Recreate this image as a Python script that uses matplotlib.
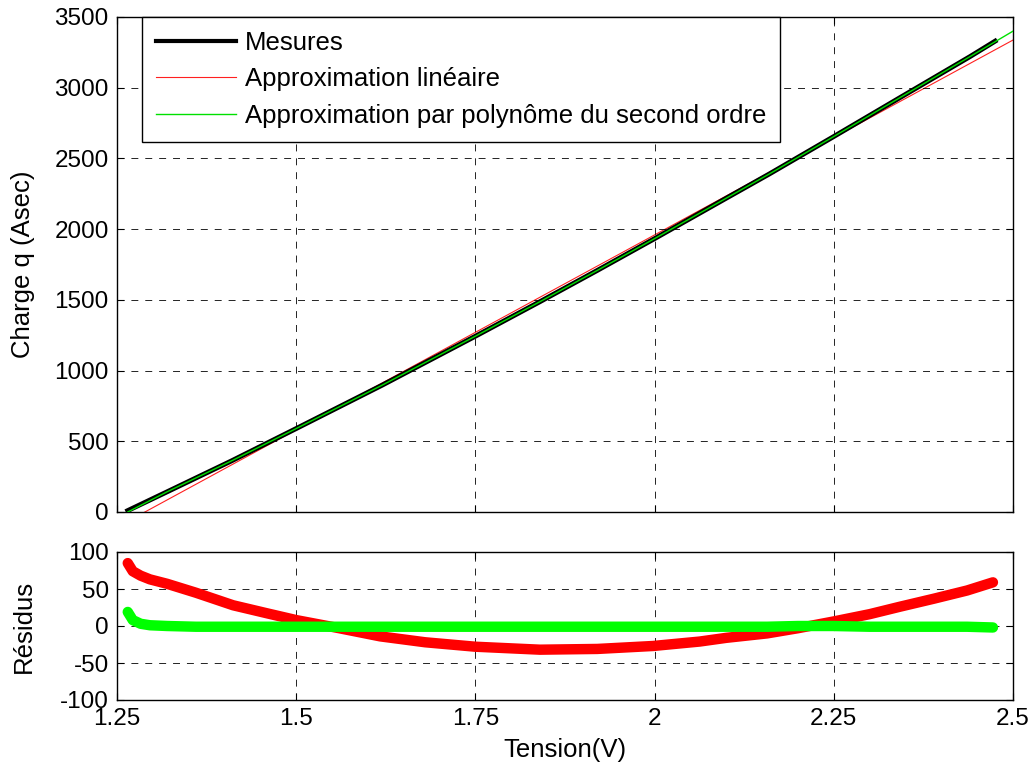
import matplotlib
matplotlib.use("Agg")
import matplotlib.pyplot as plt

plt.rcParams['font.family'] = ['Liberation Sans', 'DejaVu Sans']
plt.rcParams['lines.scale_dashes'] = False
plt.rcParams['axes.unicode_minus'] = False

# ---- data ----
tension = [1.265, 1.32, 1.41, 1.50, 1.62, 1.75, 1.84, 1.92, 2.00, 2.10, 2.16, 2.25, 2.34, 2.44, 2.475]
charge_mesures = [10, 143, 362, 590, 897, 1243, 1487, 1708, 1933, 2219, 2390, 2655, 2923, 3220, 3329]

tension_lin = [1.265, 2.50]
charge_lin = [-66, 3337]

tension_poly = [1.265, 1.32, 1.41, 1.50, 1.62, 1.75, 1.84, 1.92, 2.00, 2.10, 2.16, 2.25, 2.34, 2.44, 2.50]
charge_poly = [0, 143, 362, 590, 897, 1243, 1487, 1708, 1933, 2219, 2390, 2655, 2923, 3220, 3400]

tension_res = [1.265, 1.272, 1.283, 1.296, 1.32, 1.36, 1.412, 1.46, 1.50, 1.56, 1.617, 1.68, 1.75, 1.84,
               1.92, 1.998, 2.063, 2.10, 2.157, 2.20, 2.249, 2.30, 2.342, 2.39, 2.436, 2.472]
residus_lin = [85, 74, 68, 63, 57, 45, 28, 17, 8, -3, -14, -22, -28, -32,
               -31, -27, -21, -16, -10, -3, 6, 16, 26, 37, 48, 59]
residus_poly = [19, 8, 3, 1, 0, -1, -1, -1, -1, -1, -1, -1, -1, -1,
                -1, -1, -1, -1, -1, 0, 0, -1, -1, -1, -1, -2]

xticks = [1.25, 1.5, 1.75, 2, 2.25, 2.5]
xticklabels = ['1.25', '1.5', '1.75', '2', '2.25', '2.5']
yticks_top = [0, 500, 1000, 1500, 2000, 2500, 3000, 3500]
yticks_bot = [-100, -50, 0, 50, 100]

FS_TICK = 17.5
FS_LAB = 18.5
FS_LEG = 18.5

fig = plt.figure(figsize=(10.35, 7.71), dpi=100)
ax1 = fig.add_axes([117/1035, (771-512)/771, 896/1035, 495/771])
ax2 = fig.add_axes([117/1035, (771-700)/771, 896/1035, 148/771])

def style(ax):
    ax.grid(True, color='black', linestyle=(0, (5, 5)), linewidth=0.6)
    ax.tick_params(direction='in', length=5, width=0.8, top=True, right=True,
                   labelsize=FS_TICK, pad=6)
    for s in ax.spines.values():
        s.set_linewidth(1.0)
    ax.set_axisbelow(False)

ax1.plot(tension, charge_mesures, color='black', linewidth=3.5, label='Mesures', zorder=3)
ax1.plot(tension_lin, charge_lin, color='#ff2020', linewidth=0.8, label='Approximation linéaire', zorder=2)
ax1.plot(tension_poly, charge_poly, color='#00e000', linewidth=1.0,
         label='Approximation par polynôme du second ordre', zorder=4)
ax1.set_xlim(1.25, 2.5)
ax1.set_ylim(0, 3500)
ax1.set_xticks(xticks)
ax1.set_xticklabels([])
ax1.set_yticks(yticks_top)
ax1.set_ylabel('Charge q (Asec)', fontsize=FS_LAB)
ax1.yaxis.set_label_coords(-0.091, 0.5)
style(ax1)
leg = ax1.legend(loc='upper left', bbox_to_anchor=(25/896, 1.0), borderaxespad=0,
                 fontsize=FS_LEG, frameon=True, fancybox=False, edgecolor='black',
                 framealpha=1, handlelength=3.1, handletextpad=0.35,
                 labelspacing=0.48, borderpad=0.55)
leg.get_frame().set_linewidth(1.0)
leg.get_lines()[0].set_linewidth(3.0)

ax2.plot(tension_res, residus_lin, color='#ff0000', linewidth=7.5, solid_capstyle='round',
         solid_joinstyle='round', zorder=3)
ax2.plot(tension_res, residus_poly, color='#00ff00', linewidth=7.5, solid_capstyle='round',
         solid_joinstyle='round', zorder=4)
ax2.set_xlim(1.25, 2.5)
ax2.set_ylim(-100, 100)
ax2.set_xticks(xticks)
ax2.set_xticklabels(xticklabels)
ax2.set_yticks(yticks_bot)
ax2.set_ylabel('Résidus', fontsize=FS_LAB)
ax2.yaxis.set_label_coords(-0.091, 0.5)
ax2.set_xlabel('Tension(V)', fontsize=FS_LAB)
ax2.xaxis.set_label_coords(0.5, -0.26)
style(ax2)

fig.savefig('out.png', dpi=100)
